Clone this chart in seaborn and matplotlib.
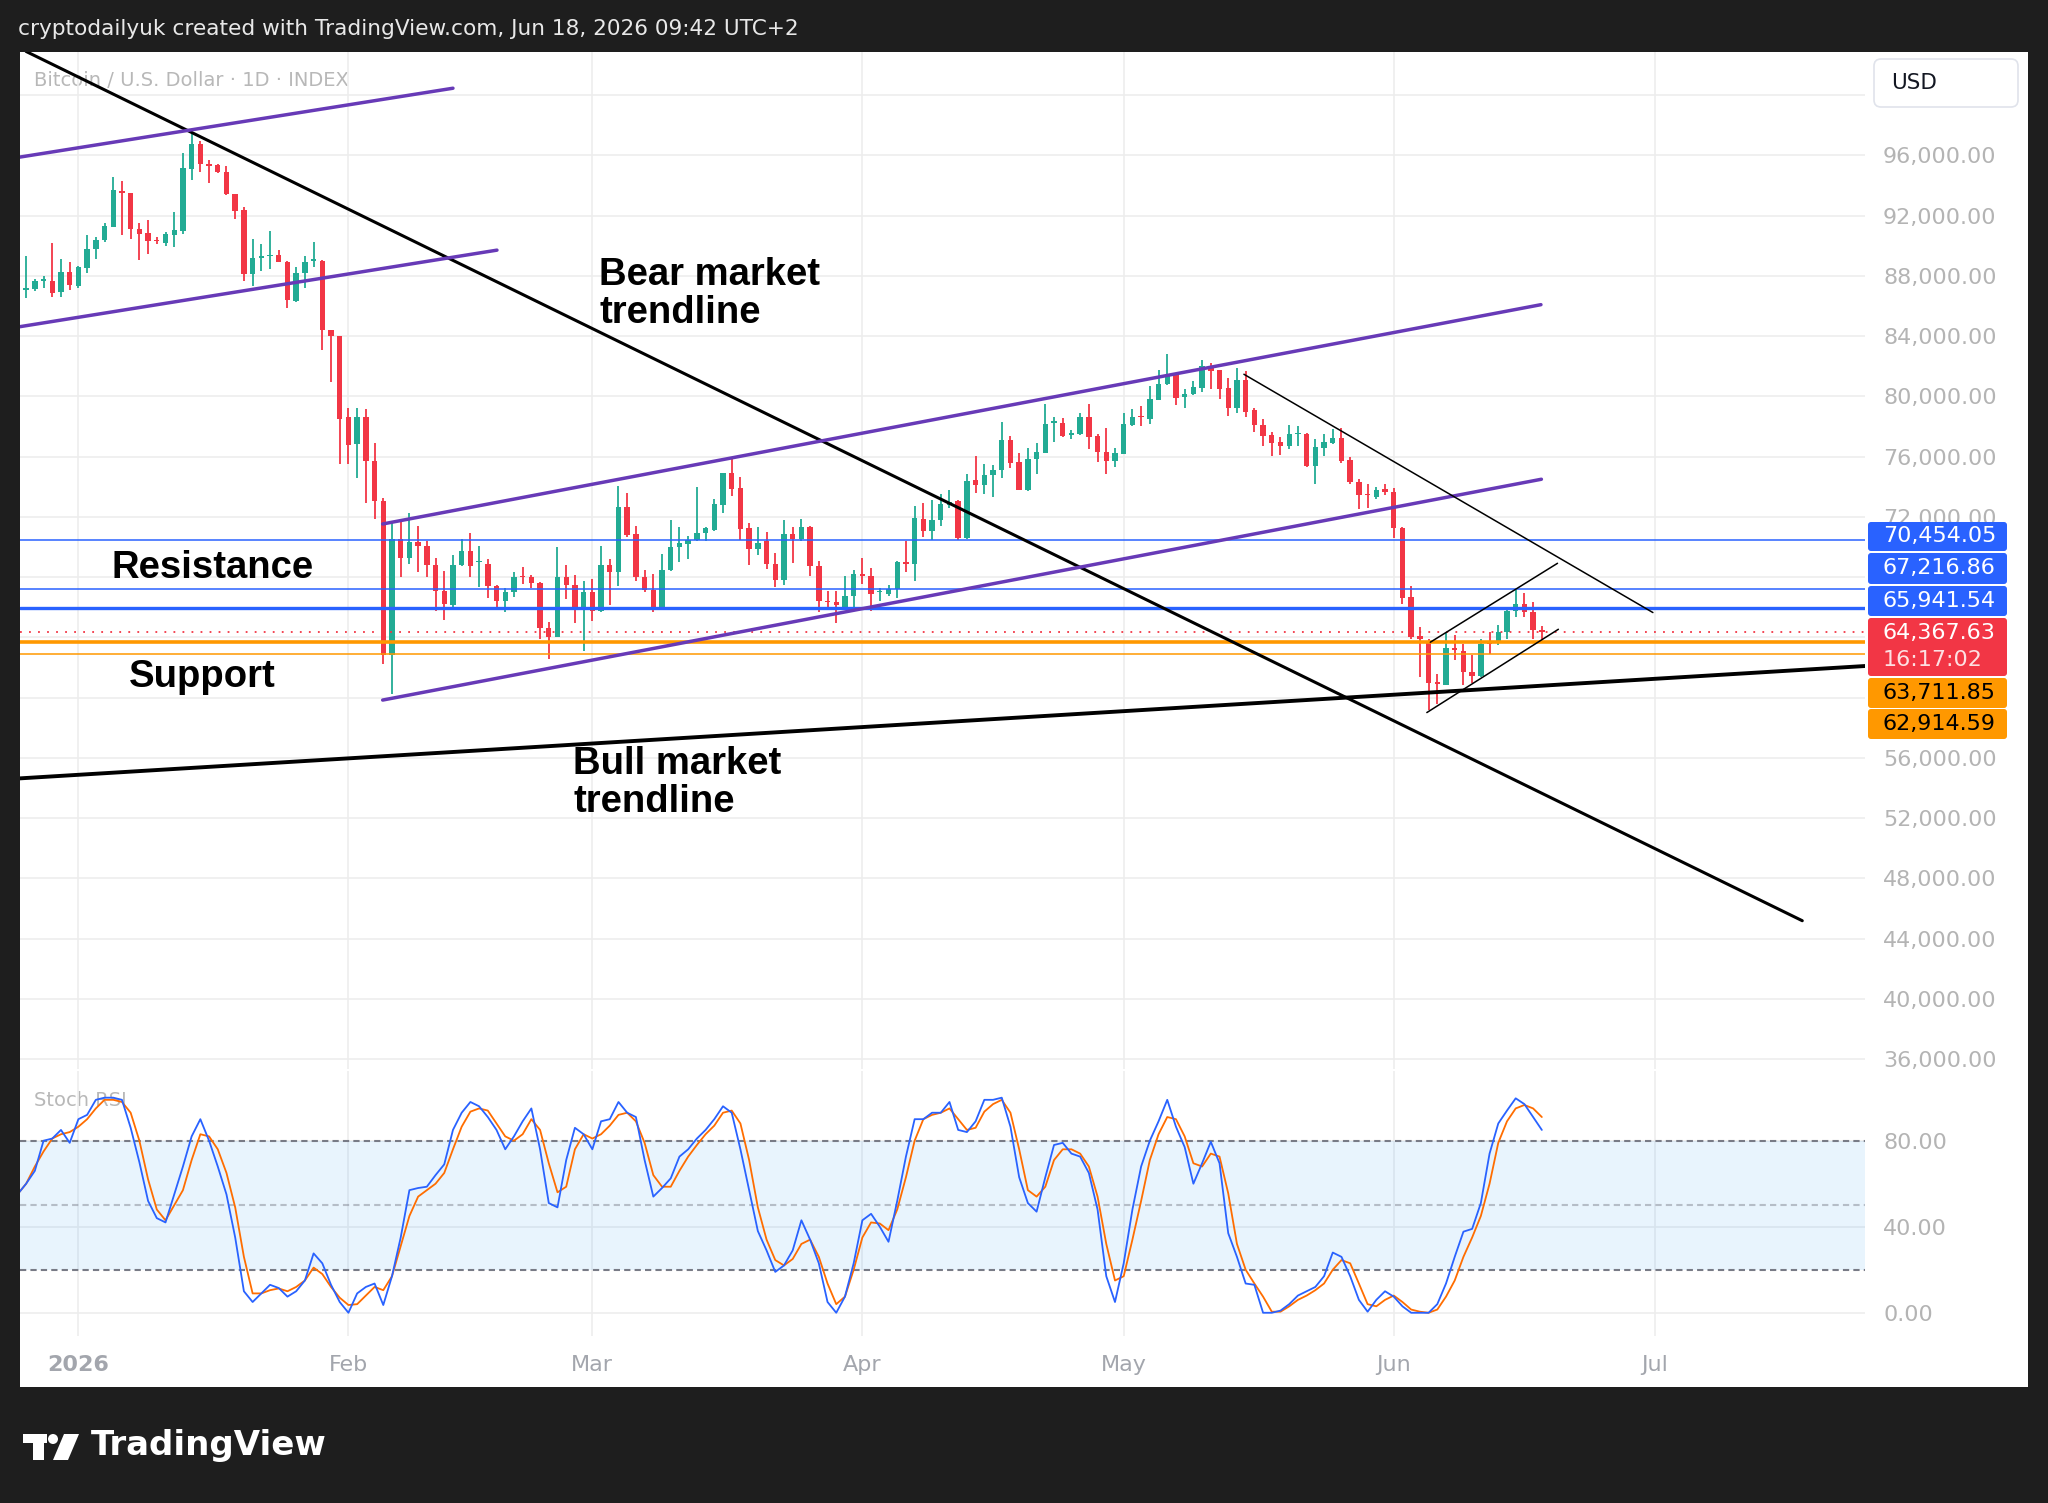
import numpy as np
import pandas as pd
import matplotlib
matplotlib.use("Agg")
import matplotlib.pyplot as plt
import seaborn as sns
from matplotlib.patches import Rectangle, FancyBboxPatch, Circle, Polygon

# ---------------- data (days relative to 2026-01-01) ----------------
first_day = -7
opens = [87420, 87040, 87120, 87680, 87680, 86920, 88240,
         87300, 88520, 89790, 90400, 91240, 93650, 93520, 91110, 90850, 90400,
         90170, 90730, 90980, 95120, 96750, 95430, 95350, 94920, 93450, 92380,
         88140, 89200, 89330, 89410, 88950, 86360, 88190, 89000, 89020, 84380,
         83990, 78600, 76850, 78650, 75680, 73030, 62850, 70530, 69240, 70310,
         70080, 68800, 67100, 66170, 68800, 69750, 68980, 68870, 67430, 66390,
         66990, 68050, 67980, 67610, 64620, 64040, 67980, 67500, 65950, 66990,
         65770, 68820, 68310, 72670, 70860, 68030, 67160, 65990, 68450, 69970,
         70200, 70480, 70930, 71120, 72810, 74890, 73890, 71240, 69860, 70420,
         68870, 67830, 70860, 70530, 71300, 68760, 66430, 66320, 66040, 66770,
         68200, 68050, 66990, 66880, 67210, 68980, 68870, 71860, 71040, 71790,
         72760, 73070, 70610, 74420, 74130, 74810, 75100, 77090, 75670, 73770,
         75830, 76270, 78260, 78260, 77440, 77490, 78640, 77380, 76340, 75720,
         76200, 78110, 78730, 78480, 79740, 80810, 81430, 79970, 80140, 80590,
         82020, 81740, 80590, 79260, 81070, 79080, 78110, 77440, 77000, 76710,
         77490, 77530, 75390, 76600, 76930, 77270, 75760, 74350, 73550, 73330,
         73840, 73680, 71250, 66690, 64080, 63770, 61040, 60820, 63320, 63100,
         61710, 61420, 63770, 63770, 64360, 65760, 66250, 65690, 64480]
highs = [87550, 89330, 87800, 87980, 90170, 89150, 88950,
         88690, 90730, 90600, 91540, 94590, 94280, 93520, 91490, 91690, 90600,
         90930, 92250, 96190, 97510, 96950, 95680, 95430, 95300, 93450, 92560,
         90470, 90090, 90980, 89710, 89000, 88570, 89330, 90270, 89080, 84430,
         83990, 79200, 79250, 79160, 76880, 73250, 71630, 71630, 72230, 71410,
         70370, 69240, 68380, 69470, 70530, 70930, 70080, 69200, 67500, 67270,
         68310, 68690, 68140, 67650, 64990, 70020, 68800, 68160, 67760, 67870,
         70080, 69200, 74070, 73560, 71410, 68470, 68200, 69530, 71790, 71350,
         70750, 73960, 71300, 73180, 74890, 75950, 74620, 71590, 71350, 71010,
         69580, 71790, 71350, 71860, 71410, 69090, 67100, 67050, 68050, 68490,
         69270, 68600, 67270, 67500, 69090, 70370, 72740, 72900, 73120, 73500,
         73790, 73110, 74860, 76050, 75480, 75460, 78330, 77380, 76270, 76600,
         76930, 79480, 78640, 78590, 77750, 78930, 79480, 77490, 77890, 76600,
         78930, 79150, 79370, 80700, 81740, 82840, 81470, 80480, 81030, 82400,
         82250, 81740, 81250, 81910, 81690, 79210, 78480, 77660, 77310, 78110,
         78040, 77600, 77160, 77490, 77820, 77930, 75980, 74500, 74210, 73990,
         74170, 73950, 71340, 67420, 64700, 63920, 61550, 64300, 64190, 63590,
         62820, 63920, 64360, 64810, 66020, 67180, 66950, 66360, 64740]
lows = [86950, 86530, 86970, 87170, 86610, 86610, 87040,
        87220, 88190, 89150, 90270, 91240, 90730, 90470, 89080, 89460, 90090,
        89970, 89910, 90780, 94340, 94920, 94160, 94840, 93400, 91790, 87680,
        87300, 88310, 88440, 88900, 85850, 86280, 87170, 88570, 83100, 80940,
        75480, 75500, 74550, 72900, 71860, 62230, 60240, 67980, 68870, 68310,
        67980, 65770, 65150, 65990, 68760, 68030, 67320, 66610, 66040, 65660,
        66650, 67540, 67270, 63890, 62560, 64000, 66540, 64930, 63070, 65100,
        65660, 66170, 67430, 70640, 67760, 66990, 65660, 65950, 68380, 68980,
        69200, 70420, 70370, 71080, 72230, 73400, 70460, 68820, 69490, 68540,
        67320, 67500, 68930, 70420, 68090, 65660, 65990, 64930, 65990, 66040,
        67540, 65730, 66430, 66770, 66610, 68310, 67720, 70680, 70460, 71410,
        72580, 70460, 70550, 73600, 73510, 73330, 74610, 75230, 73770, 73730,
        74830, 76270, 77000, 77310, 77160, 77440, 76490, 75670, 74880, 75280,
        76200, 78040, 78040, 78200, 79740, 80760, 79440, 79260, 80100, 80320,
        80480, 79810, 78710, 78930, 78640, 77660, 76710, 76050, 76120, 76490,
        76710, 75280, 74170, 76050, 76870, 75610, 74210, 72510, 72580, 73170,
        73460, 70630, 66200, 63900, 61380, 59210, 59610, 60820, 62480, 60820,
        60980, 61380, 62880, 63480, 63920, 65360, 65360, 63920, 63920]
closes = [87040, 87170, 87680, 87800, 86870, 88240, 87370,
          88590, 89790, 90400, 91310, 93700, 93520, 91110, 90800, 90350, 90320,
          90780, 91060, 95170, 96750, 95430, 95300, 94920, 93450, 92330, 88140,
          89200, 89330, 89410, 88950, 86410, 88190, 88950, 89080, 84380, 83990,
          78530, 76800, 78650, 75680, 73030, 62850, 70530, 69240, 70310, 70080,
          68800, 67100, 66210, 68820, 69750, 68710, 69040, 67430, 66390, 66990,
          67980, 67980, 67580, 64620, 64040, 67980, 67500, 65950, 66990, 65770,
          68820, 68310, 72670, 70820, 68030, 67160, 65990, 68470, 69970, 70240,
          70480, 70930, 71260, 72850, 74890, 73850, 71190, 69860, 70240, 68870,
          67830, 70860, 70530, 71300, 68760, 66390, 66320, 66170, 66770, 68200,
          68050, 66880, 67050, 67210, 68980, 68870, 71920, 71040, 71790, 72850,
          73000, 70580, 74400, 74120, 74810, 75100, 77090, 75610, 73770, 75830,
          76340, 78150, 78370, 77380, 77600, 78640, 77310, 76340, 75720, 76270,
          78200, 78640, 78640, 79810, 80850, 81430, 79920, 80190, 80630, 82020,
          81690, 80480, 79260, 81070, 78990, 78110, 77380, 76930, 76710, 77490,
          77530, 75390, 76650, 77000, 77270, 75720, 74350, 73460, 73460, 73770,
          73680, 71250, 66640, 64050, 63920, 60980, 60930, 63320, 63150, 61710,
          61420, 63550, 63590, 64360, 65760, 66250, 65690, 64480, 64370]

stoch_k = [55, 60, 66, 80, 81, 85, 79,
           90, 92, 99, 100, 100, 99, 86, 70, 52, 44,
           42, 55, 68, 82, 90, 80, 68, 55, 35, 10,
           5, 9, 13, 11.5, 7.5, 10, 15, 27.6, 23, 13,
           5, 0, 9, 12, 13.6, 3.6, 17, 35, 57, 58,
           58.6, 64, 69, 85, 93, 98, 96, 91, 85, 76,
           82, 89, 95, 76, 51, 49, 71, 86, 83, 76,
           89, 90, 98, 93, 91, 71, 54, 58, 62.5, 72.6,
           76, 81, 85, 90, 96, 93, 76, 57, 38, 29,
           19, 22, 29, 43, 34, 23, 5, 0, 7.5, 23,
           43, 46, 40, 33, 52, 72.6, 90, 90, 93, 93,
           98, 85, 84, 89, 99, 99, 100, 86.5, 63, 51,
           47, 63, 78, 79, 74, 72.6, 65, 48, 17, 5,
           23, 48, 68, 80, 89, 99, 86.5, 77, 60, 69.5,
           79.5, 69.5, 37, 26, 13.6, 13, 0, 0, 1, 4,
           8, 10, 12, 17, 28, 26, 17, 6, 0.5, 6,
           10, 7.5, 3, 0, 0, 0, 4, 13.6, 26, 37.7,
           39, 51, 74, 88, 94, 99.7, 97, 91, 85]
stoch_d = [55, 60, 68, 75, 81, 83, 84,
           86.5, 90, 95, 99, 99, 98, 93, 80, 62, 48,
           43, 50, 57, 71, 83, 82, 76, 65, 49, 26,
           9, 9, 10.5, 11.3, 10, 12, 15, 21, 18, 12,
           7, 3.6, 4, 8, 12, 10.5, 17, 31, 45, 54,
           57, 60, 65, 76, 86.5, 93.5, 95, 94, 88, 82,
           80, 83, 90, 85, 69.5, 56, 58.6, 76, 83, 81,
           83, 87, 92, 93, 89, 79, 64, 58.6, 58.6, 66,
           72.6, 78, 83, 87, 93, 94, 88, 71, 49, 34,
           24.5, 22, 25, 32, 34, 26, 13.6, 4, 7.5, 20,
           35, 42, 41.5, 38.4, 48, 63, 80, 90, 92, 93,
           95, 90, 85, 86, 93.5, 97, 99, 93, 76, 57,
           54, 58.6, 71, 76, 76, 74, 68, 54, 32, 15,
           17, 34, 52, 71, 83, 91, 90, 82, 69.5, 68,
           74, 72.6, 55.5, 32, 20, 13.6, 7.5, 0.5, 0.5, 3,
           6, 8, 10.5, 13.6, 20, 24.5, 23, 13.6, 4, 3,
           6, 8, 5, 1.5, 0.5, 0, 1.5, 7.5, 15, 26,
           35, 45, 60, 79, 89, 95, 96.6, 95, 91]

month_days = [0, 31, 59, 90, 120, 151, 181]
month_labels = ["2026", "Feb", "Mar", "Apr", "May", "Jun", "Jul"]
price_ticks = list(range(36000, 100001, 4000))
hidden_price_labels = [60000, 64000, 68000, 100000]   # covered by labels in the reference
stoch_ticks = [0, 40, 80]

resistance_levels = [70454.05, 67216.86, 65941.54]
current_price = 64367.63
support_levels = [63711.85, 62914.59]

# trendline endpoints: (day, price)
bear_line = [(-6.0, 102900), (197.9, 45190)]
bull_line = [(-6.75, 54640), (205.1, 62100)]
old_chan_top = [(-6.7, 95890), (43.0, 100460)]
old_chan_bot = [(-6.7, 84630), (48.05, 89710)]
chan_top = [(34.93, 71530), (167.9, 86090)]
chan_bot = [(34.93, 59840), (167.95, 74500)]
may_line = [(133.8, 81470), (180.75, 65650)]
flag_top = [(155.2, 63680), (169.8, 68920)]
flag_bot = [(154.8, 59010), (169.9, 64540)]

# ---------------- figure ----------------
W, H = 2048, 1503
sns.set_theme(style="white")
plt.rcParams["font.family"] = ["DejaVu Sans"]

fig = plt.figure(figsize=(W / 100, H / 100), dpi=100)
fig.patch.set_facecolor("#1e1e1e")


def frac(x0, y0, x1, y1):
    return [x0 / W, 1 - y1 / H, (x1 - x0) / W, (y1 - y0) / H]


bg = fig.add_axes([0, 0, 1, 1])
bg.set_zorder(0)
bg.set_xlim(0, W)
bg.set_ylim(H, 0)
bg.axis("off")
bg.add_patch(Rectangle((19.6, 52), 2028 - 19.6, 1387 - 52, facecolor="white", edgecolor="none"))
bg.text(34, 81, "Bitcoin / U.S. Dollar · 1D · INDEX", color="#b8b8b8", fontsize=14,
        va="center", ha="left")
bg.text(34, 1101, "Stoch RSI", color="#b8b8b8", fontsize=14, va="center", ha="left")

ax = fig.add_axes(frac(19.6, 52, 1865, 1069))
ax2 = fig.add_axes(frac(19.6, 1071, 1865, 1336))
for a in (ax, ax2):
    a.set_zorder(1)
    a.set_facecolor("none")
    for s in a.spines.values():
        s.set_visible(False)

x_min, x_max = -6.75, 205.1
grid_c = "#ededed"

# ---- price pane ----
df = pd.DataFrame({"day": np.arange(first_day, first_day + len(opens)),
                   "open": opens, "high": highs, "low": lows, "close": closes})
up = df["close"] >= df["open"]
cols = np.where(up, "#22ab94", "#f23645")
ax.vlines(df["day"], df["low"], df["high"], colors=cols, linewidth=1.3, zorder=3)
body_lo = np.minimum(df["open"], df["close"])
body_h = np.maximum((df["close"] - df["open"]).abs(), 90)
ax.bar(df["day"], body_h, bottom=body_lo, width=0.62, color=cols, linewidth=0, zorder=3)

ax.set_xlim(x_min, x_max)
ax.set_ylim(35346, 102865)
ax.set_yticks(price_ticks)
ax.set_yticklabels(["" if v in hidden_price_labels else f"{v:,.2f}" for v in price_ticks])
ax.yaxis.tick_right()
ax.tick_params(axis="y", length=0, pad=13, labelsize=16, labelcolor="#b4b4b4")
ax.set_xticks(month_days)
ax.tick_params(axis="x", length=0, labelbottom=False)
ax.grid(True, color=grid_c, linewidth=1.2, zorder=0)

# horizontal levels
ax.axhline(resistance_levels[0], color="#2962ff", lw=1.1, zorder=4)
ax.axhline(resistance_levels[1], color="#2962ff", lw=1.1, zorder=4)
ax.axhline(resistance_levels[2], color="#2962ff", lw=2.4, zorder=4)
ax.axhline(current_price, color="#f23645", lw=1.3, ls=(0, (1, 4)), zorder=4)
ax.axhline(support_levels[0], color="#ff9800", lw=2.6, zorder=4)
ax.axhline(support_levels[1], color="#ff9800", lw=1.1, zorder=4)


def tline(pts, color, lw):
    sns.lineplot(x=[p[0] for p in pts], y=[p[1] for p in pts], ax=ax, color=color,
                 linewidth=lw, zorder=5, legend=False, estimator=None, sort=False)


purple = "#673ab7"
tline(bear_line, "black", 2.2)
tline(bull_line, "black", 2.8)
tline(old_chan_top, purple, 2.5)
tline(old_chan_bot, purple, 2.5)
tline(chan_top, purple, 2.5)
tline(chan_bot, purple, 2.5)
tline(may_line, "black", 1.1)
tline(flag_top, "black", 1.1)
tline(flag_bot, "black", 1.1)
ax.set_xlabel("")
ax.set_ylabel("")

# ---- stoch pane ----
ax2.set_xlim(x_min, x_max)
ax2.set_ylim(-10.8, 112.4)
ax2.axhspan(20, 80, color="#2196f3", alpha=0.1, lw=0, zorder=1)
ax2.set_yticks(stoch_ticks)
ax2.set_yticklabels([f"{v:.2f}" for v in stoch_ticks])
ax2.yaxis.tick_right()
ax2.tick_params(axis="y", length=0, pad=13, labelsize=16, labelcolor="#b4b4b4")
ax2.set_xticks(month_days)
ax2.set_xticklabels(month_labels)
ax2.tick_params(axis="x", length=0, pad=14, labelsize=16, labelcolor="#a3a6ad")
ax2.get_xticklabels()[0].set_fontweight("bold")
ax2.grid(True, color=grid_c, linewidth=1.2, zorder=0)
for lvl, al in ((80, 1.0), (50, 0.45), (20, 1.0)):
    ax2.axhline(lvl, color="#787b86", alpha=al, lw=1.5, ls=(0, (3, 2)), zorder=2)
stoch_df = pd.DataFrame({"day": np.arange(first_day, first_day + len(stoch_k)),
                         "K": stoch_k, "D": stoch_d})
sns.lineplot(data=stoch_df, x="day", y="D", ax=ax2, color="#ff6d00", linewidth=1.3, zorder=3)
sns.lineplot(data=stoch_df, x="day", y="K", ax=ax2, color="#2962ff", linewidth=1.3, zorder=4)
ax2.set_xlabel("")
ax2.set_ylabel("")

# ---- overlay ----
ov = fig.add_axes([0, 0, 1, 1])
ov.set_zorder(3)
ov.set_facecolor("none")
ov.set_xlim(0, W)
ov.set_ylim(H, 0)
ov.axis("off")

ov.text(18, 29, "cryptodailyuk created with TradingView.com, Jun 18, 2026 09:42 UTC+2",
        color="#e8e8e8", fontsize=15.6, va="center", ha="left")

bold_font = dict(family=["Liberation Sans", "DejaVu Sans"], weight="bold", color="black",
                 fontsize=27.5, ha="left", va="center")
ov.text(599, 294, "Bear market\ntrendline", linespacing=1.07, **bold_font)
ov.text(112, 568, "Resistance", **bold_font)
ov.text(129, 677, "Support", **bold_font)
ov.text(573, 783, "Bull market\ntrendline", linespacing=1.07, **bold_font)

# USD box
ov.add_patch(FancyBboxPatch((1874, 59), 144, 48, boxstyle="round,pad=0,rounding_size=7",
                            facecolor="white", edgecolor="#e0e3eb", lw=1.2))
ov.text(1891, 83, "USD", color="#131722", fontsize=15.5, va="center", ha="left")

# price label boxes
box_specs = [
    (522, 551, "#2962ff", [f"{resistance_levels[0]:,.2f}"], "white"),
    (553, 584, "#2962ff", [f"{resistance_levels[1]:,.2f}"], "white"),
    (586, 616, "#2962ff", [f"{resistance_levels[2]:,.2f}"], "white"),
    (618, 676, "#f23645", [f"{current_price:,.2f}", "16:17:02"], "white"),
    (678, 708, "#ff9800", [f"{support_levels[0]:,.2f}"], "black"),
    (709, 739, "#ff9800", [f"{support_levels[1]:,.2f}"], "black"),
]
for y0, y1, fc, lines, tc in box_specs:
    ov.add_patch(FancyBboxPatch((1868, y0), 139, y1 - y0, boxstyle="round,pad=0,rounding_size=3",
                                facecolor=fc, edgecolor="none"))
    if len(lines) == 1:
        ov.text(1883, (y0 + y1) / 2, lines[0], color=tc, fontsize=16, va="center", ha="left")
    else:
        ov.text(1883, y0 + 15, lines[0], color=tc, fontsize=16, va="center", ha="left")
        ov.text(1883, y0 + 42, lines[1], color=tc, fontsize=16, va="center", ha="left",
                alpha=0.85)

# logo mark (T, dot, slash) and wordmark
ov.add_patch(Rectangle((23, 1434), 24, 9, facecolor="white", edgecolor="none"))
ov.add_patch(Rectangle((33, 1434), 11, 26, facecolor="white", edgecolor="none"))
ov.add_patch(Circle((53, 1439), 5, facecolor="white", edgecolor="none"))
ov.add_patch(Polygon([(64, 1434), (79, 1434), (68, 1460), (53, 1460)], closed=True,
                     facecolor="white", edgecolor="none"))
ov.text(91, 1446, "TradingView", color="white", fontsize=24.5, fontweight="bold", va="center",
        ha="left")

fig.savefig("out.png", dpi=100, facecolor=fig.get_facecolor())
